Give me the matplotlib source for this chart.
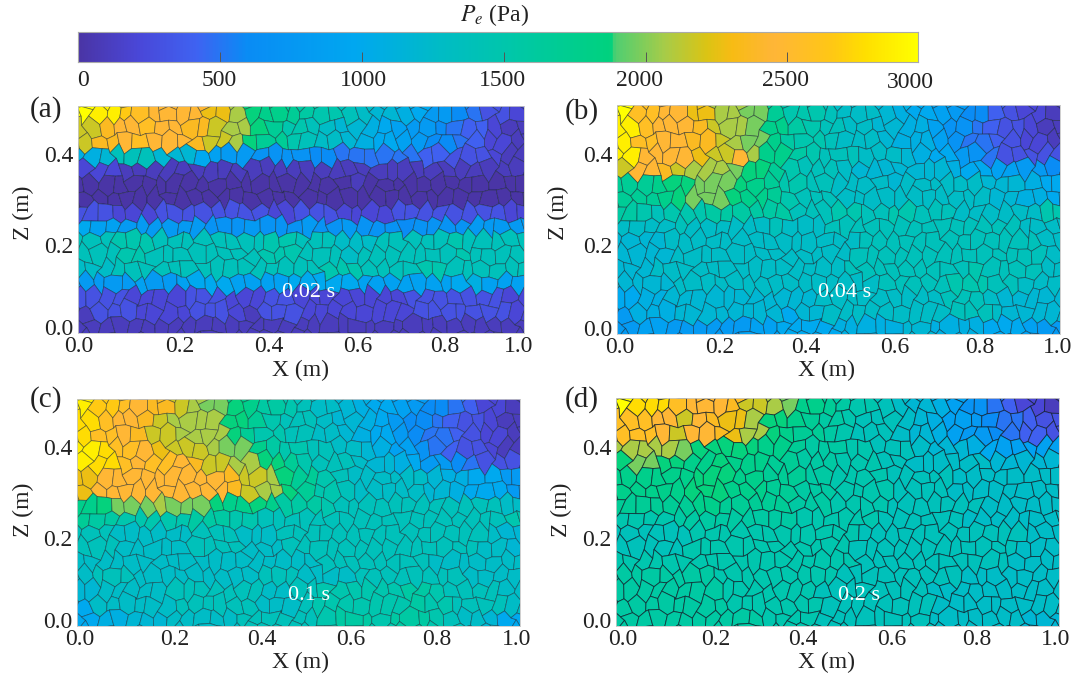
"""
Recreates the four panel pore pressure figure (P_e at 0.02, 0.04, 0.1, 0.2 s).
Cell values were read by eye from the picture, in hundreds of Pa, row by row
from the top of each panel. Saved as out.png.
"""

import numpy as np
import matplotlib.pyplot as plt
from matplotlib.collections import PolyCollection
from matplotlib.colors import LinearSegmentedColormap, Normalize
from matplotlib.transforms import ScaledTranslation

plt.rcParams['font.family'] = ['Liberation Serif', 'DejaVu Serif']
plt.rcParams['mathtext.fontset'] = 'stix'

W, H = 1080, 678

CBAR_TICKS = [500, 1000, 1500, 2000, 2500]
PANEL_TAGS = ['(a)', '(b)', '(c)', '(d)']
TIMES = ['0.02 s', '0.04 s', '0.1 s', '0.2 s']
X_TICKS = [0.0, 0.2, 0.4, 0.6, 0.8, 1.0]
Z_TICKS = [0.0, 0.2, 0.4]

P_A = [
    [30, 29, 27, 26, 25, 25, 25, 23, 21, 19, 18, 17, 16, 15, 14, 13, 12, 11, 10, 8, 6, 5, 3, 2],
    [22, 24, 25, 26, 25, 25, 24, 22, 21, 19, 17, 15, 14, 13, 12, 11, 10, 9, 8, 6, 5, 4, 2, 1],
    [11, 12, 14, 14, 12, 12, 10, 9, 8, 7, 7, 7, 6, 6, 5, 5, 5, 5, 4, 4, 3, 3, 2, 1],
    [2, 2, 1, 1, 1, 1, 1, 1, 1, 1, 1, 1, 1, 1, 1, 1, 1, 1, 1, 1, 1, 1, 1, 1],
    [0, 0, 0, 0, 0, 0, 0, 0, 0, 0, 0, 0, 0, 0, 0, 0, 0, 0, 0, 0, 0, 0, 0, 0],
    [3, 3, 2, 2, 3, 3, 3, 3, 3, 3, 2, 2, 3, 3, 2, 2, 2, 3, 3, 3, 3, 3, 3, 2],
    [10, 9, 8, 8, 8, 8, 8, 7, 7, 8, 7, 7, 8, 7, 8, 7, 7, 6, 7, 7, 7, 8, 8, 8],
    [14, 14, 15, 15, 14, 14, 14, 14, 14, 14, 15, 15, 14, 14, 13, 13, 14, 14, 14, 14, 15, 14, 14, 14],
    [13, 13, 14, 14, 14, 14, 14, 14, 14, 14, 14, 14, 14, 15, 15, 14, 14, 14, 15, 15, 14, 14, 14, 14],
    [8, 8, 8, 9, 8, 9, 10, 10, 9, 9, 9, 10, 10, 10, 10, 9, 9, 9, 9, 9, 10, 11, 9, 9],
    [3, 3, 3, 2, 2, 2, 3, 3, 2, 2, 3, 3, 2, 2, 2, 2, 2, 2, 3, 3, 3, 3, 3, 2],
    [1, 1, 1, 1, 1, 1, 1, 1, 1, 1, 1, 1, 1, 1, 1, 1, 1, 1, 1, 1, 1, 1, 1, 1],
]

P_B = [
    [30, 26, 25, 25, 23, 21, 21, 20, 17, 15, 15, 14, 13, 13, 12, 11, 10, 9, 8, 6, 4, 3, 2, 1],
    [29, 26, 25, 25, 24, 22, 21, 20, 18, 16, 15, 14, 13, 13, 12, 11, 11, 9, 7, 5, 4, 3, 2, 1],
    [29, 25, 25, 25, 23, 22, 25, 21, 18, 16, 15, 14, 14, 13, 13, 12, 11, 10, 8, 7, 5, 3, 3, 3],
    [22, 25, 24, 22, 21, 21, 20, 19, 17, 15, 14, 14, 13, 12, 12, 12, 12, 12, 11, 10, 9, 9, 8, 6],
    [17, 17, 18, 19, 20, 20, 19, 18, 17, 15, 14, 14, 13, 13, 13, 13, 13, 13, 13, 13, 12, 12, 11, 10],
    [16, 15, 14, 15, 15, 16, 16, 16, 16, 14, 14, 14, 15, 14, 14, 15, 14, 14, 13, 13, 13, 13, 13, 15],
    [13, 13, 13, 14, 13, 13, 13, 13, 14, 13, 13, 14, 14, 14, 14, 14, 14, 14, 14, 14, 14, 14, 13, 13],
    [12, 12, 12, 13, 13, 13, 13, 13, 13, 13, 13, 13, 13, 14, 14, 14, 14, 14, 14, 14, 14, 14, 14, 13],
    [12, 12, 13, 13, 13, 13, 13, 13, 13, 13, 13, 13, 14, 14, 14, 14, 14, 14, 14, 15, 14, 14, 14, 13],
    [12, 12, 12, 13, 13, 13, 13, 13, 13, 13, 13, 13, 13, 13, 14, 14, 14, 14, 15, 15, 14, 14, 13, 13],
    [10, 11, 11, 12, 12, 12, 12, 12, 12, 12, 12, 13, 13, 13, 13, 13, 13, 13, 14, 14, 13, 12, 12, 12],
    [8, 9, 9, 8, 8, 8, 8, 9, 9, 10, 10, 10, 11, 11, 11, 12, 12, 11, 11, 11, 10, 10, 9, 8],
]

P_C = [
    [29, 27, 26, 25, 24, 22, 21, 20, 19, 18, 16, 15, 14, 13, 12, 11, 10, 9, 8, 6, 5, 4, 2, 1],
    [28, 26, 25, 24, 22, 21, 21, 21, 19, 17, 15, 14, 14, 13, 12, 11, 10, 8, 6, 5, 4, 3, 2, 1],
    [29, 28, 26, 25, 23, 22, 22, 21, 20, 18, 16, 15, 14, 14, 13, 12, 11, 9, 7, 5, 4, 3, 2, 1],
    [29, 28, 26, 25, 26, 25, 24, 22, 21, 21, 19, 17, 15, 14, 14, 13, 12, 11, 10, 8, 6, 5, 3, 3],
    [23, 25, 25, 25, 25, 25, 25, 25, 24, 22, 21, 19, 17, 15, 14, 13, 13, 13, 13, 12, 11, 10, 10, 8],
    [18, 19, 20, 20, 21, 20, 20, 19, 18, 19, 18, 16, 16, 15, 14, 14, 14, 14, 14, 14, 14, 14, 14, 13],
    [17, 16, 15, 15, 15, 15, 16, 16, 15, 15, 14, 14, 14, 14, 14, 14, 14, 14, 14, 14, 14, 14, 14, 15],
    [14, 14, 13, 13, 13, 13, 14, 14, 14, 13, 13, 14, 14, 14, 14, 14, 14, 14, 14, 14, 14, 14, 13, 12],
    [13, 13, 13, 13, 13, 13, 13, 13, 13, 13, 13, 13, 13, 14, 14, 14, 14, 14, 14, 13, 13, 13, 13, 13],
    [13, 14, 14, 13, 13, 13, 13, 13, 13, 13, 14, 14, 13, 13, 13, 14, 14, 14, 14, 14, 14, 13, 13, 13],
    [12, 13, 13, 13, 13, 14, 14, 14, 14, 14, 13, 13, 14, 15, 15, 15, 15, 15, 16, 15, 14, 14, 14, 13],
    [10, 11, 11, 12, 12, 13, 13, 13, 13, 14, 14, 14, 14, 15, 16, 16, 15, 16, 16, 15, 14, 13, 12, 10],
]

P_D = [
    [30, 28, 28, 26, 25, 25, 24, 22, 21, 20, 18, 17, 16, 15, 14, 13, 12, 11, 9, 7, 5, 4, 2, 1],
    [26, 26, 25, 22, 25, 24, 23, 21, 19, 18, 17, 16, 15, 14, 14, 13, 12, 11, 9, 8, 6, 5, 4, 3],
    [21, 21, 21, 20, 19, 19, 19, 19, 18, 17, 16, 16, 15, 15, 14, 14, 13, 12, 12, 11, 10, 9, 9, 9],
    [19, 20, 19, 19, 18, 19, 18, 18, 17, 17, 16, 16, 15, 15, 14, 14, 13, 13, 13, 13, 12, 12, 12, 12],
    [18, 18, 18, 18, 19, 19, 18, 18, 17, 17, 16, 16, 15, 15, 15, 14, 14, 14, 13, 13, 13, 13, 13, 13],
    [17, 17, 17, 17, 18, 18, 17, 17, 17, 16, 16, 16, 15, 15, 15, 14, 14, 14, 14, 14, 13, 13, 13, 13],
    [15, 15, 15, 16, 16, 16, 16, 16, 16, 16, 15, 15, 15, 15, 14, 14, 14, 14, 14, 13, 13, 13, 13, 13],
    [14, 14, 14, 14, 15, 15, 15, 15, 15, 15, 15, 15, 15, 14, 14, 14, 14, 14, 14, 14, 14, 14, 13, 13],
    [15, 15, 15, 15, 15, 15, 15, 15, 15, 15, 15, 15, 15, 14, 14, 14, 14, 14, 14, 14, 14, 13, 13, 13],
    [16, 16, 16, 16, 16, 15, 15, 15, 15, 15, 15, 15, 14, 14, 14, 14, 14, 14, 14, 13, 13, 13, 13, 13],
    [16, 16, 16, 16, 16, 16, 15, 15, 15, 15, 15, 14, 14, 14, 14, 14, 14, 13, 13, 13, 13, 13, 13, 13],
    [16, 16, 16, 16, 16, 16, 16, 16, 15, 15, 15, 14, 14, 14, 14, 14, 14, 13, 13, 13, 13, 13, 12, 12],
]

# colour bar stops, picked off the reference bar
cmap = LinearSegmentedColormap.from_list('pe', [
    (0.00, '#4a35a6'),
    (0.07, '#4a47d8'),
    (0.14, '#3f63f2'),
    (0.20, '#0a8cf5'),
    (0.33, '#00a8f0'),
    (0.43, '#00bcc6'),
    (0.52, '#00c8a8'),
    (0.635, '#00d27e'),
    (0.64, '#4fcf72'),
    (0.70, '#a8cc48'),
    (0.75, '#dcc414'),
    (0.78, '#f8bc14'),
    (0.83, '#ffb638'),
    (0.90, '#ffc814'),
    (0.94, '#ffe000'),
    (1.00, '#ffff00'),
])
norm = Normalize(0, 3000)

# mesh drawn on top of the value grid, finer than the values themselves
MESH_COLS = 32
MESH_ROWS = 16


def px_axes(fig, x0, y0, x1, y1):
    """Axes from pixel corners of the 1080x678 picture (y down)."""
    return fig.add_axes([x0 / W, 1 - y1 / H, (x1 - x0) / W, (y1 - y0) / H])


def scatter_term(i, j, seed):
    # repeatable 0..1 number per lattice vertex, only used for the mesh shape
    v = np.sin(i * 12.9898 + j * 78.233 + seed) * 43758.5453
    return v - np.floor(v)


def mesh_vertices(xs, zs, dx, dz):
    # lattice indices, so that a vertex shared by cells moves the same way
    i = np.round(xs / (dx / 2))
    j = np.round(zs / (dz / 6))
    wx = xs + 0.50 * dx * (scatter_term(i, j, 0.0) - 0.5)
    wz = zs + 0.60 * dz * (scatter_term(i, j, 1.7) - 0.5)
    return np.column_stack([wx, wz])


def draw_cells(ax, values, edge_alpha, lw):
    grid = np.array(values) * 100.0
    n_rows, n_cols = grid.shape
    dx = 1.0 / MESH_COLS
    dz = 0.5 / MESH_ROWS
    polys = []
    pressure = []
    for r in range(-2, MESH_ROWS + 2):
        for c in range(-2, MESH_COLS + 2):
            xc = (c + 0.5 - 0.5 * (r % 2)) * dx
            zc = 0.5 - (r + 0.5) * dz
            xs = xc + np.array([0, dx / 2, dx / 2, 0, -dx / 2, -dx / 2])
            zs = zc + dz * np.array([2 / 3, 1 / 3, -1 / 3, -2 / 3, -1 / 3, 1 / 3])
            verts = mesh_vertices(xs, zs, dx, dz)
            polys.append(verts)
            # nearest value of the grid
            mx, mz = verts.mean(axis=0)
            row = int(np.clip((0.5 - mz) / 0.5 * n_rows, 0, n_rows - 1))
            col = int(np.clip(mx * n_cols, 0, n_cols - 1))
            pressure.append(grid[row, col])
    cells = PolyCollection(polys, array=np.array(pressure), cmap=cmap, norm=norm,
                           edgecolors=(0.05, 0.1, 0.15, edge_alpha), linewidths=lw)
    ax.add_collection(cells)


def shift_labels(labels, shifts_x, shift_y):
    for label, sx, sy in zip(labels, shifts_x, shift_y):
        offset = ScaledTranslation(sx / 100, -sy / 100, label.figure.dpi_scale_trans)
        label.set_transform(label.get_transform() + offset)


def main():
    fig = plt.figure(figsize=(W / 100, H / 100), dpi=100)

    # colour bar
    cax = px_axes(fig, 78, 32, 918, 62)
    gradient = np.linspace(0, 3000, 512)[None, :]
    cax.imshow(gradient, cmap=cmap, norm=norm, aspect='auto', extent=[0, 2960, 0, 1])
    cax.set_yticks([])
    cax.set_xticks(CBAR_TICKS)
    cax.set_xticklabels([str(v) for v in CBAR_TICKS], fontsize=17, color='#222222')
    cax.tick_params(axis='x', direction='in', length=7, width=0.7, color='#555555', pad=6)
    shift_labels(cax.get_xticklabels(), [-1, 2, -1, -6, -2], [0, 0, 0, 0, 0])
    for side in cax.spines.values():
        side.set_color('#aaaaaa')
        side.set_linewidth(0.8)
    fig.text(83 / W, 1 - 80 / H, '0', fontsize=17, color='#222222', ha='center', va='center')
    fig.text(910 / W, 1 - 83 / H, '3000', fontsize=17, color='#222222', ha='center', va='center')
    fig.text(495 / W, 1 - 15 / H, r'$P_e$ (Pa)', fontsize=17, color='#222222', ha='center', va='center')

    panels = [
        (P_A, (78, 106, 524, 333), 0.50, 0.55),
        (P_B, (617, 105, 1060, 334), 0.55, 0.55),
        (P_C, (77, 399, 520, 626), 0.50, 0.55),
        (P_D, (616, 398, 1059, 626), 0.72, 0.65),
    ]
    x_shifts = [
        [1, 13, 12, 12, 10, -5],
        [3, 14, 12, 12, 8, -2],
        [3, 9, 8, 8, 5, -3],
        [7, 11, 10, 10, 6, -3],
    ]
    tag_pos = [(46, 110), (582, 112), (46, 400), (582, 400)]
    time_pos = [(309, 292), (845, 292), (309, 595), (859, 595)]
    xlabel_pos = [(300, 370), (826, 370), (300, 662), (826, 662)]
    zlabel_pos = [(23, 213), (558, 213), (23, 510), (561, 510)]

    for i, (values, box, edge_alpha, lw) in enumerate(panels):
        ax = px_axes(fig, *box)
        draw_cells(ax, values, edge_alpha, lw)
        ax.set_xlim(0, 1)
        ax.set_ylim(0, 0.5)
        ax.set_xticks(X_TICKS)
        ax.set_yticks(Z_TICKS)
        ax.set_xticklabels([f'{v:.1f}' for v in X_TICKS], fontsize=17, color='#222222')
        ax.set_yticklabels([f'{v:.1f}' for v in Z_TICKS], fontsize=17, color='#222222')
        ax.tick_params(length=0, pad=3)
        shift_labels(ax.get_xticklabels(), x_shifts[i], [-1] * 6)
        shift_labels(ax.get_yticklabels(), [0, 0, 0], [-6, 3, 3])
        for side in ax.spines.values():
            side.set_color('#c8c8c8')
            side.set_linewidth(0.6)

        fig.text(tag_pos[i][0] / W, 1 - tag_pos[i][1] / H, PANEL_TAGS[i], fontsize=21,
                 color='#222222', ha='center', va='center')
        fig.text(time_pos[i][0] / W, 1 - time_pos[i][1] / H, TIMES[i], fontsize=16,
                 color='white', ha='center', va='center')
        fig.text(xlabel_pos[i][0] / W, 1 - xlabel_pos[i][1] / H, 'X (m)', fontsize=17,
                 color='#222222', ha='center', va='center')
        fig.text(zlabel_pos[i][0] / W, 1 - zlabel_pos[i][1] / H, 'Z (m)', fontsize=17,
                 color='#222222', ha='center', va='center', rotation=90)

    fig.savefig('out.png', dpi=100)


if __name__ == '__main__':
    main()
